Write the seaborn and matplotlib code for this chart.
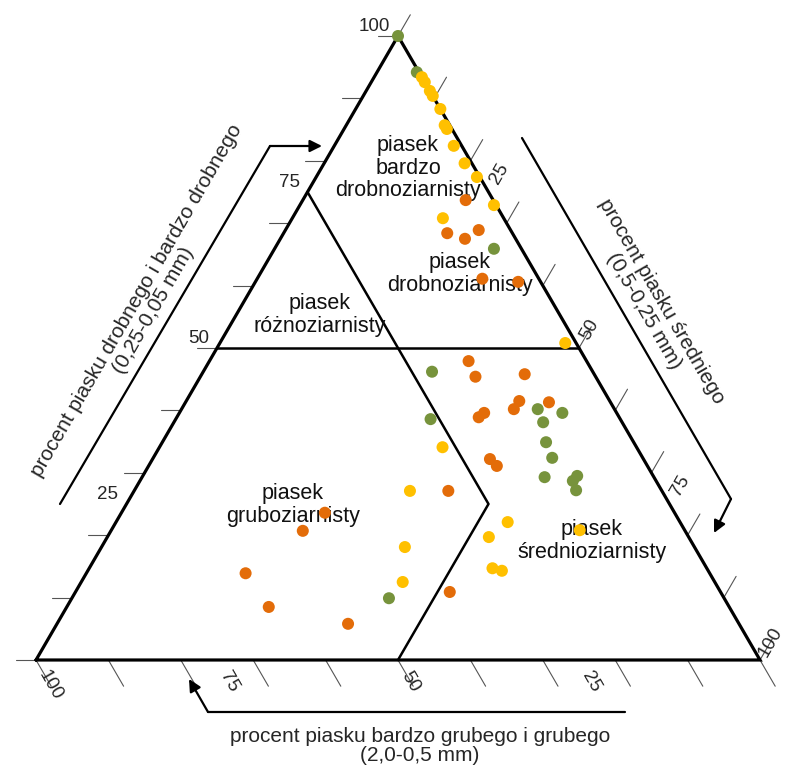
import numpy as np
import pandas as pd
import matplotlib.pyplot as plt
import seaborn as sns

# sample compositions in % : fine (0,25-0,05), medium (0,5-0,25), coarse (2,0-0,5)
green_fine = [100.0, 94.2, 65.9, 46.2, 40.2, 39.6, 38.6, 38.1, 34.9, 32.4, 29.3, 29.5, 28.7, 27.2, 9.9]
green_medium = [0.0, 5.5, 30.3, 31.6, 49.2, 52.9, 35.2, 51.0, 53.0, 55.1, 55.6, 60.0, 59.8, 61.0, 43.8]
green_coarse = [0.0, 0.3, 3.8, 22.2, 10.6, 7.5, 26.2, 10.9, 12.1, 12.5, 15.1, 10.5, 11.5, 11.8, 46.3]

yellow_fine = [93.4, 92.6, 91.2, 90.4, 88.3, 85.7, 85.1, 82.4, 79.6, 77.4, 72.9, 70.8, 50.8,
               34.1, 27.1, 22.1, 19.7, 20.8, 18.1, 14.7, 14.3, 12.5]
yellow_medium = [6.6, 7.4, 8.8, 9.6, 11.7, 13.6, 14.2, 16.5, 19.4, 22.2, 26.8, 20.8, 47.7,
                 39.1, 38.1, 54.1, 52.7, 64.7, 41.9, 55.7, 57.2, 44.4]
yellow_coarse = [0.0, 0.0, 0.0, 0.0, 0.0, 0.7, 0.7, 1.1, 1.0, 0.4, 0.3, 8.4, 1.5,
                 26.8, 34.8, 23.8, 27.6, 14.5, 40.0, 29.6, 28.5, 43.1]

orange_fine = [73.7, 68.4, 67.5, 68.9, 61.1, 60.6, 47.9, 45.4, 45.8, 41.5, 41.3, 40.2,
               39.6, 38.9, 32.2, 31.1, 27.1, 23.6, 20.7, 13.9, 10.9, 8.5, 5.8]
orange_medium = [22.5, 22.6, 25.5, 26.7, 31.1, 36.3, 35.8, 38.0, 44.6, 46.0, 50.2, 45.9,
                 42.1, 41.7, 46.6, 48.1, 43.4, 28.1, 26.5, 22.0, 51.7, 27.9, 40.2]
orange_coarse = [3.8, 9.0, 7.0, 4.4, 7.8, 3.1, 16.3, 16.6, 9.6, 12.5, 8.5, 13.9,
                 18.3, 19.4, 21.2, 20.8, 29.5, 48.3, 52.8, 64.1, 37.4, 63.6, 54.0]

tick_values = list(range(0, 101, 10))
label_values = [25, 50, 75, 100]

H = np.sqrt(3) / 2
PXX = 724.0
PXY = 624.0 / H


def tern(fine, medium):
    f = np.asarray(fine, dtype=float) / 100
    m = np.asarray(medium, dtype=float) / 100
    return m + f / 2, f * H


def P(px, py):
    # picture pixel -> data coords (used for text and decoration only)
    return (px - 36) / PXX, (660 - py) / PXY


sns.set_style('white')
plt.rcParams['font.family'] = ['Liberation Sans', 'DejaVu Sans']

fig = plt.figure(figsize=(7.86, 7.66), dpi=100)
ax = fig.add_axes([0, 0, 1, 1])

# triangle outline
tx, ty = tern([0, 0, 100, 0], [0, 100, 0, 0])
ax.plot(tx, ty, color='black', lw=2.3, solid_joinstyle='miter', zorder=2)

# class boundaries
for f, m in [([50, 50], [0, 50]), ([75, 25, 0], [0, 50, 50])]:
    bx, by = tern(f, m)
    ax.plot(bx, by, color='black', lw=1.8, zorder=2)

# ticks
tick_c = '#555555'
for v in tick_values:
    x, y = tern([v], [0])
    ax.plot([x[0], x[0] - 0.028], [y[0], y[0]], color=tick_c, lw=0.8, zorder=1)
    x, y = tern([100 - v], [v])
    ax.plot([x[0], x[0] + 0.034 * 0.5], [y[0], y[0] + 0.034 * H], color=tick_c, lw=0.8, zorder=1)
    x, y = tern([0], [100 - v])
    ax.plot([x[0], x[0] + 0.042 * 0.5], [y[0], y[0] - 0.042 * H], color=tick_c, lw=0.8, zorder=1)

tfs = 13.5
for v in label_values:
    x, y = tern([v], [0])
    ax.text(x[0] - 8 / PXX, y[0] + 1 / PXY, str(v), ha='right', va='bottom', fontsize=tfs)
    d = 21
    x, y = tern([100 - v], [v])
    ax.text(x[0] + d * 0.5 / PXX, y[0] + d * H / PXY, str(v), rotation=60,
            rotation_mode='anchor', ha='center', va='center', fontsize=tfs)
    d = 29 if v == 100 else 25
    x, y = tern([0], [100 - v])
    ax.text(x[0] + d * 0.5 / PXX, y[0] - d * H / PXY, str(v), rotation=-60,
            rotation_mode='anchor', ha='center', va='center', fontsize=tfs)

# class names
rfs = 15.5
regions = [('piasek\nbardzo\ndrobnoziarnisty', (408, 168)),
           ('piasek\ndrobnoziarnisty', (460, 274)),
           ('piasek\nróżnoziarnisty', (320, 315)),
           ('piasek\ngruboziarnisty', (293, 505)),
           ('piasek\nśrednioziarnisty', (592, 541))]
for txt, pos in regions:
    ax.text(*P(*pos), txt, ha='center', va='center', fontsize=rfs, linespacing=1.1,
            color='#111111', zorder=2)

# axis titles with arrows
afs = 15
ax.text(*P(420, 746), 'procent piasku bardzo grubego i grubego\n(2,0-0,5 mm)',
        ha='center', va='center', fontsize=afs, linespacing=1.05)
ax.text(*P(145, 305), 'procent piasku drobnego i bardzo drobnego\n(0,25-0,05 mm)',
        ha='center', va='center', fontsize=afs, linespacing=1.05, rotation=60,
        rotation_mode='anchor')
ax.text(*P(653, 306), 'procent piasku średniego\n(0,5-0,25 mm)',
        ha='center', va='center', fontsize=afs, linespacing=1.05, rotation=-60,
        rotation_mode='anchor')

arrows = [((625, 712), (208, 712), (189, 679)),
          ((60, 504), (270, 146), (322, 146)),
          ((522, 138), (731, 499), (714, 533))]
for a, b, c in arrows:
    pa, pb, pc = P(*a), P(*b), P(*c)
    ax.plot([pa[0], pb[0]], [pa[1], pb[1]], color='black', lw=1.6)
    ax.annotate('', xy=pc, xytext=pb,
                arrowprops=dict(arrowstyle='-|>', color='black', lw=1.6,
                                mutation_scale=18, shrinkA=0, shrinkB=0))

# data points
frames = []
for name, f, m, c in [('green', green_fine, green_medium, green_coarse),
                      ('orange', orange_fine, orange_medium, orange_coarse),
                      ('yellow', yellow_fine, yellow_medium, yellow_coarse)]:
    x, y = tern(f, m)
    frames.append(pd.DataFrame({'x': x, 'y': y, 'coarse': c, 'group': name}))
df = pd.concat(frames, ignore_index=True)

palette = {'green': '#77933c', 'yellow': '#ffc000', 'orange': '#e36c09'}
sns.scatterplot(data=df, x='x', y='y', hue='group', palette=palette, s=75,
                linewidth=0, legend=False, ax=ax, zorder=3)
ax.set_xlim(-36 / PXX, 750 / PXX)
ax.set_ylim(-106 / PXY, 660 / PXY)
ax.axis('off')

plt.savefig('out.png', dpi=100)
plt.close()
